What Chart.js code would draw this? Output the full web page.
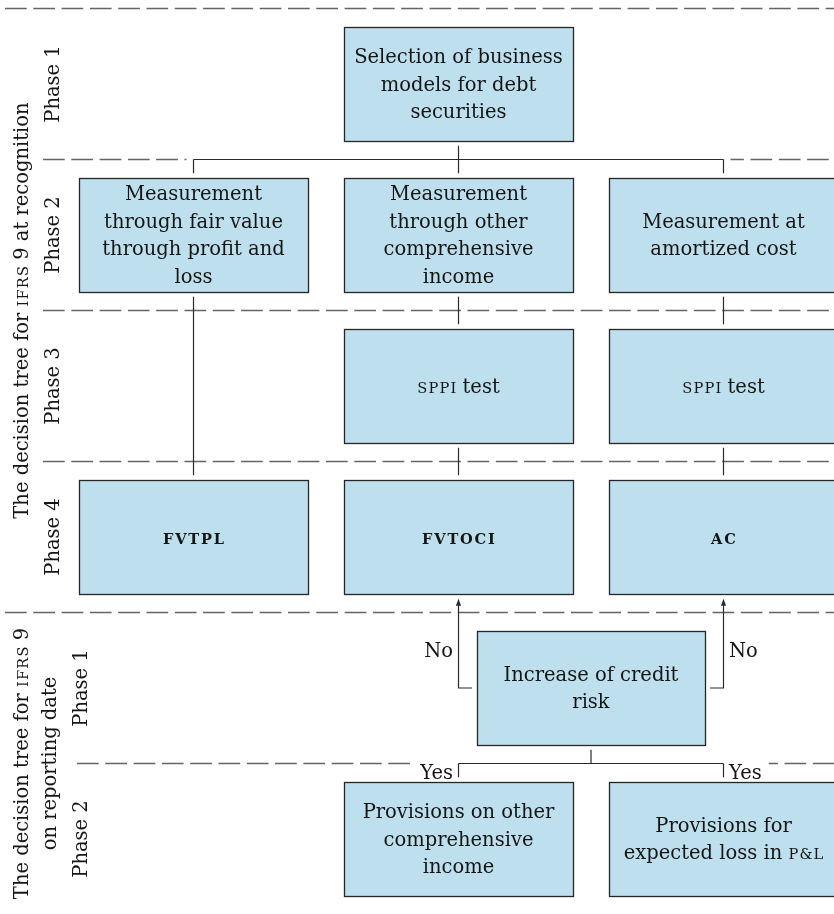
<!DOCTYPE html>
<html>
<head>
<meta charset="utf-8">
<title>IFRS 9 decision tree</title>
<script src="https://cdn.jsdelivr.net/npm/chart.js@4.4.1/dist/chart.umd.min.js"></script>
<style>
  html, body { margin: 0; padding: 0; background: #fff; }
  canvas { display: block; }
</style>
</head>
<body>
<canvas id="treeChart" width="834" height="914"></canvas>
<script>
// decision tree data - [xxx] marks small caps
const boxText = [
  ['Selection of business', 'models for debt', 'securities'],
  ['Measurement', 'through fair value', 'through profit and', 'loss'],
  ['Measurement', 'through other', 'comprehensive', 'income'],
  ['Measurement at', 'amortized cost'],
  ['[sppi] test'],
  ['[sppi] test'],
  ['[fvtpl]'],
  ['[fvtoci]'],
  ['[ac]'],
  ['Increase of credit', 'risk'],
  ['Provisions on other', 'comprehensive', 'income'],
  ['Provisions for', 'expected loss in [p&l]']
];
const boxColumn = [2, 1, 2, 3, 2, 3, 1, 2, 3, 2.5, 2, 3];
const boxRow = [1, 2, 2, 2, 3, 3, 4, 4, 4, 5, 6, 6];

const sectionTitles = [
  ['The decision tree for [ifrs] 9 at recognition'],
  ['The decision tree for [ifrs] 9', 'on reporting date']
];
const sectionFirstRow = [1, 5];
const sectionLastRow = [4, 6];
const phaseNames = ['Phase 1', 'Phase 2', 'Phase 3', 'Phase 4', 'Phase 1', 'Phase 2'];

// links between boxes (indexes into boxText)
const treeFrom = [0, 9];
const treeTo = [[1, 2, 3], [10, 11]];
const treeLabel = ['', 'Yes'];
const straightFrom = [1, 2, 3, 4, 5];
const straightTo = [6, 4, 5, 7, 8];
const sideFrom = [9, 9];
const sideTo = [7, 8];
const sideLabel = ['No', 'No'];

// look
const FONT = '"DejaVu Serif", serif';
const SIZE = 19.5;
const LINE_H = 27.5;
const BOX_W = 0.864;   // in column units
const BOX_H = 0.758;   // in row units
const GAP = 4.5;
const BOX_FILL = 'rgb(190,224,238)';
const INK = '#151515';
const RULE = '#646464';
const SECTION_RULE_X = 5;
const PHASE_RULE_X = [43, 77];

function richRuns(ctx, str, size) {
  const parts = str.split(/\[([^\]]+)\]/);
  const runs = [];
  parts.forEach((t, i) => { if (t) runs.push({ text: i % 2 ? t.toUpperCase() : t, sc: i % 2 === 1 }); });
  const onlyCaps = runs.length === 1 && runs[0].sc;
  runs.forEach(r => {
    if (r.sc) {
      r.font = (onlyCaps ? 'bold ' : '') + (size * 0.75) + 'px ' + FONT;
      r.spacing = onlyCaps ? 1.8 : 1.2;
      r.chars = [...r.text];
    } else {
      r.font = size + 'px ' + FONT;
      r.spacing = 0;
      r.chars = [r.text];
    }
    ctx.font = r.font;
    r.widths = r.chars.map(c => ctx.measureText(c).width);
    r.w = r.widths.reduce((a, b) => a + b, 0) + r.spacing * (r.chars.length - 1);
  });
  return runs;
}

// draw a line of text, align: 'center' | 'left' | 'right'
function drawRich(ctx, str, x, y, size, align) {
  const runs = richRuns(ctx, str, size);
  const total = runs.reduce((a, r) => a + r.w, 0);
  let cur = align === 'left' ? x : align === 'right' ? x - total : x - total / 2;
  ctx.textAlign = 'left';
  ctx.textBaseline = 'alphabetic';
  runs.forEach(r => {
    ctx.font = r.font;
    let p = cur;
    r.chars.forEach((c, k) => {
      ctx.fillText(c, p, y);
      p += r.widths[k] + r.spacing;
    });
    cur += r.w;
  });
  return { left: cur - total, right: cur };
}

function textWidth(ctx, str, size) {
  return richRuns(ctx, str, size).reduce((a, r) => a + r.w, 0);
}

const treePlugin = {
  id: 'decisionTree',
  afterDraw(chart) {
    const { ctx, scales: { x, y } } = chart;
    const W = chart.width;
    const px = v => x.getPixelForValue(v);
    const py = v => y.getPixelForValue(v);

    const boxes = boxText.map((lines, i) => ({
      lines,
      cx: px(boxColumn[i]),
      cy: py(boxRow[i]),
      left: px(boxColumn[i] - BOX_W / 2),
      right: px(boxColumn[i] + BOX_W / 2),
      top: py(boxRow[i] - BOX_H / 2),
      bottom: py(boxRow[i] + BOX_H / 2)
    }));

    ctx.save();

    // dashed phase rules
    ctx.strokeStyle = RULE;
    ctx.lineWidth = 1.6;
    ctx.setLineDash([21.7, 6.6]);
    sectionFirstRow.forEach((first, s) => {
      for (let r = first; r <= sectionLastRow[s]; r++) {
        const yy = py(r - 0.5);
        ctx.beginPath();
        ctx.moveTo(r === first ? SECTION_RULE_X : PHASE_RULE_X[s], yy);
        ctx.lineTo(W, yy);
        ctx.stroke();
      }
    });
    ctx.setLineDash([]);

    // white halo where tree bars sit on the rules
    ctx.fillStyle = '#fff';
    treeFrom.forEach((f, i) => {
      const kids = treeTo[i].map(k => boxes[k].cx);
      const yBar = py(boxRow[f] + 0.5);
      const x1 = Math.min(...kids), x2 = Math.max(...kids);
      let l = x1 - 7, r = x2 + 7;
      if (treeLabel[i]) {
        const tw = textWidth(ctx, treeLabel[i], SIZE);
        l = x1 - 5.5 - tw - 7;
        r = x2 + 5.5 + tw + 7;
      }
      ctx.fillRect(l, yBar - 3, r - l, 6);
    });

    // connectors
    ctx.strokeStyle = '#2a2a2a';
    ctx.lineWidth = 1.2;
    const seg = (x1, y1, x2, y2) => {
      ctx.beginPath();
      ctx.moveTo(x1, y1);
      ctx.lineTo(x2, y2);
      ctx.stroke();
    };

    treeFrom.forEach((f, i) => {
      const from = boxes[f];
      const yBar = py(boxRow[f] + 0.5);
      const kids = treeTo[i].map(k => boxes[k]);
      seg(from.cx, from.bottom + GAP, from.cx, yBar);
      seg(Math.min(...kids.map(k => k.cx)), yBar, Math.max(...kids.map(k => k.cx)), yBar);
      kids.forEach(k => seg(k.cx, yBar, k.cx, k.top - GAP));
      if (treeLabel[i]) {
        ctx.fillStyle = INK;
        const minX = Math.min(...kids.map(k => k.cx));
        kids.forEach(k => {
          const onLeft = k.cx === minX;
          drawRich(ctx, treeLabel[i], onLeft ? k.cx - 5.5 : k.cx + 5.5, yBar + 15.5, SIZE, onLeft ? 'right' : 'left');
        });
      }
    });

    straightFrom.forEach((f, i) => {
      const a = boxes[f], b = boxes[straightTo[i]];
      seg(a.cx, a.bottom + GAP, a.cx, b.top - GAP);
    });

    sideFrom.forEach((f, i) => {
      const a = boxes[f], b = boxes[sideTo[i]];
      const onLeft = b.cx < a.cx;
      const sx = onLeft ? a.left - GAP : a.right + GAP;
      const tipY = b.bottom + GAP;
      const arrowLen = 7;
      ctx.beginPath();
      ctx.moveTo(sx, a.cy);
      ctx.lineTo(b.cx, a.cy);
      ctx.lineTo(b.cx, tipY + arrowLen - 1);
      ctx.stroke();
      ctx.fillStyle = '#2a2a2a';
      ctx.beginPath();
      ctx.moveTo(b.cx, tipY);
      ctx.lineTo(b.cx - 2.6, tipY + arrowLen);
      ctx.lineTo(b.cx + 2.6, tipY + arrowLen);
      ctx.closePath();
      ctx.fill();
      const labelY = (py(boxRow[f] - 0.5) + a.cy) / 2 + 0.34 * SIZE;
      ctx.fillStyle = INK;
      drawRich(ctx, sideLabel[i], onLeft ? b.cx - 5.5 : b.cx + 5.5, labelY, SIZE, onLeft ? 'right' : 'left');
    });

    // boxes
    boxes.forEach(b => {
      const l = Math.round(b.left) + 0.5, t = Math.round(b.top) + 0.5;
      const w = Math.round(b.right) - Math.round(b.left), h = Math.round(b.bottom) - Math.round(b.top);
      ctx.fillStyle = BOX_FILL;
      ctx.fillRect(l, t, w, h);
      ctx.strokeStyle = '#262626';
      ctx.lineWidth = 1.3;
      ctx.strokeRect(l, t, w, h);
      ctx.fillStyle = INK;
      const n = b.lines.length;
      b.lines.forEach((line, k) => {
        drawRich(ctx, line, b.cx, b.cy + (k - (n - 1) / 2) * LINE_H + 0.34 * SIZE, SIZE, 'center');
      });
    });

    // rotated section titles and phase names
    ctx.fillStyle = INK;
    const vertical = (str, baseX, cy) => {
      ctx.save();
      ctx.translate(baseX, cy);
      ctx.rotate(-Math.PI / 2);
      drawRich(ctx, str, 0, 0, SIZE, 'center');
      ctx.restore();
    };
    sectionTitles.forEach((lines, s) => {
      const first = sectionFirstRow[s], last = sectionLastRow[s];
      const cy = (py(first - 0.5) + py(last + 0.5)) / 2;
      lines.forEach((line, k) => vertical(line, 28 + k * 28, cy));
      const phaseX = 28 + (lines.length - 1) * 28 + 31;
      for (let r = first; r <= last; r++) vertical(phaseNames[r - 1], phaseX, py(r));
    });

    ctx.restore();
  }
};

document.addEventListener('DOMContentLoaded', function() {
  const ctx = document.getElementById('treeChart');
  new Chart(ctx, {
    type: 'scatter',
    data: {
      datasets: [{
        data: boxColumn.map((c, i) => ({ x: c, y: boxRow[i] })),
        pointRadius: 0
      }]
    },
    options: {
      responsive: false,
      animation: false,
      devicePixelRatio: 1,
      layout: { padding: 0 },
      plugins: {
        legend: { display: false },
        tooltip: { enabled: false }
      },
      scales: {
        // column 1 sits at 193.5px, one column = 265px; row 1 at 84px, one row = 151px
        x: { type: 'linear', display: false, min: 0.2698, max: 3.4170 },
        y: { type: 'linear', display: false, reverse: true, min: 0.4437, max: 6.4967 }
      }
    },
    plugins: [treePlugin]
  });
});
</script>
</body>
</html>
